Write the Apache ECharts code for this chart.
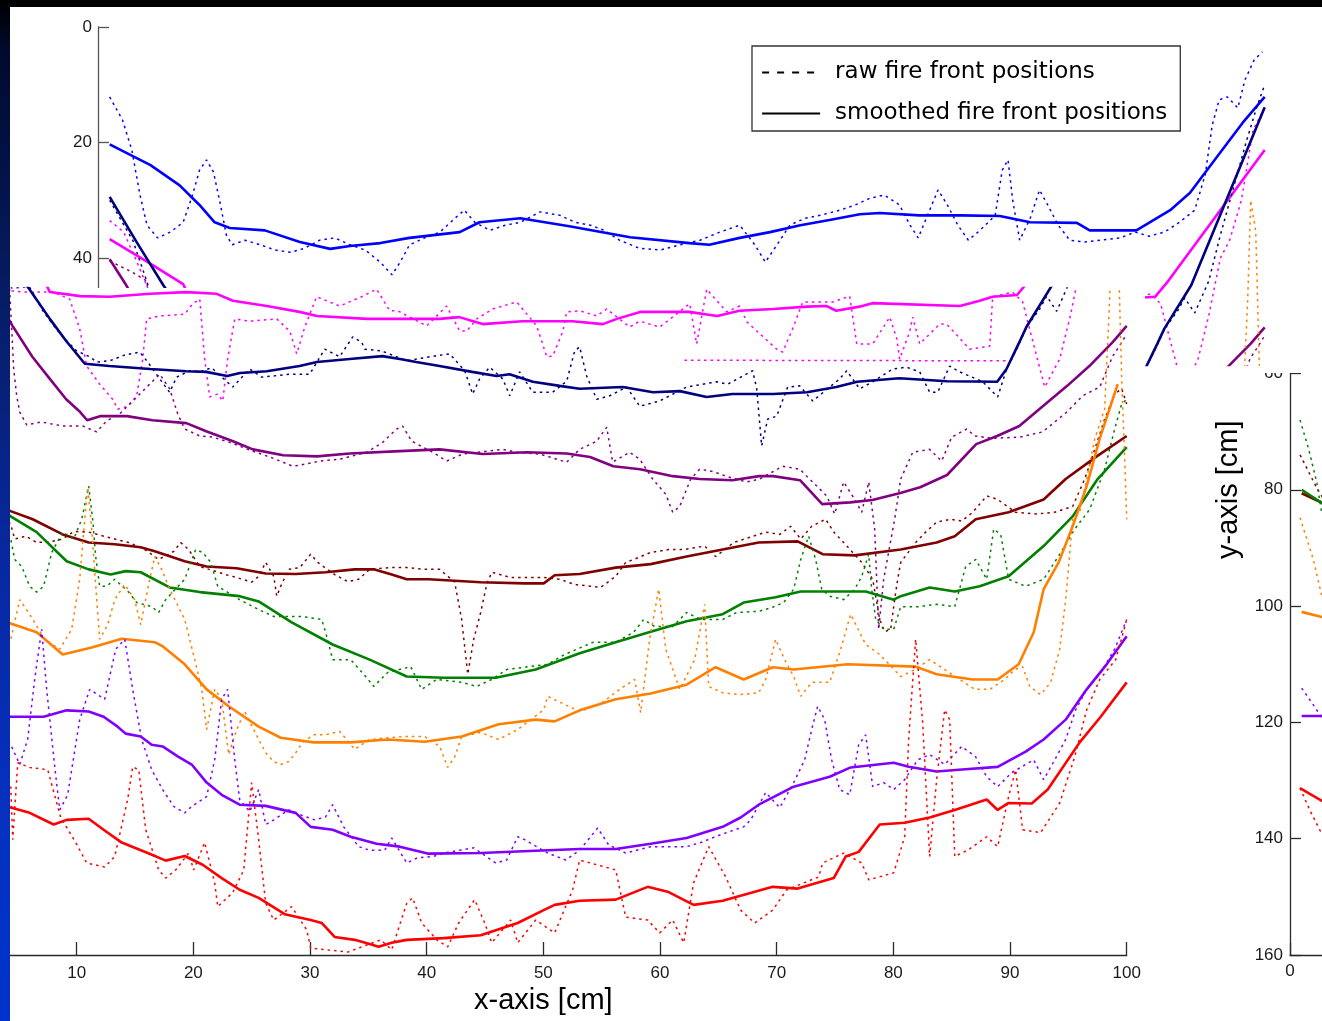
<!DOCTYPE html>
<html><head><meta charset="utf-8">
<script src="https://cdn.jsdelivr.net/npm/echarts@6/dist/echarts.min.js"></script>
<style>html,body{margin:0;padding:0;background:#fff}#c{width:1322px;height:1021px}</style>
</head><body><div id="c"></div>
<script>
// ---------- data (x in cm, y in cm) ----------
const legendNames = ['raw fire front positions', 'smoothed fire front positions'];
const xTicks = [0,10,20,30,40,50,60,70,80,90,100];

const blueSmooth = [[1.0,20.3],[4.5,23.9],[7.0,27.4],[8.7,30.8],[10.0,33.8],[11.3,34.8],[14.3,35.2],[17.3,37.2],[19.9,38.4],[21.6,37.9],[24.2,37.4],[26.7,36.5],[31.0,35.5],[32.7,33.8],[36.2,33.1],[40.4,34.5],[45.6,36.4],[50.7,37.4],[52.4,37.7],[55.0,36.5],[57.6,35.5],[60.2,34.3],[62.7,33.4],[65.3,32.4],[67.0,32.2],[70.4,32.6],[73.9,32.6],[77.3,32.7],[79.9,33.8],[83.9,33.9],[85.0,35.2],[89.0,35.2],[91.9,31.7],[93.6,28.7],[95.9,22.5],[98.1,16.6],[100,12.1]];
const blueRaw = [[1.0,12.1],[2.1,16.1],[2.9,21.3],[3.6,29.1],[4.2,34.3],[5.1,36.5],[6.2,35.5],[7.3,33.8],[8.1,29.1],[8.7,24.8],[9.3,23.0],[9.9,25.1],[10.5,30.8],[11.0,36.0],[11.5,37.7],[12.6,36.9],[13.9,37.7],[15.2,38.6],[16.5,39.0],[17.7,38.3],[19.0,36.9],[20.3,36.5],[21.6,37.7],[22.9,38.6],[24.2,40.7],[25.2,42.9],[25.9,40.7],[26.7,37.7],[28.0,36.5],[29.3,35.5],[30.6,33.1],[31.4,31.7],[32.3,33.8],[33.6,35.2],[34.9,34.3],[36.2,33.8],[37.9,32.0],[39.6,32.6],[40.9,33.8],[42.2,34.3],[43.4,35.2],[44.7,36.9],[46.4,38.3],[48.2,38.6],[49.9,37.7],[51.6,36.9],[53.3,35.5],[55.0,34.3],[56.3,37.7],[57.2,40.7],[58.0,38.3],[59.3,34.3],[60.6,33.1],[61.9,32.6],[63.6,31.7],[64.9,30.8],[66.2,29.6],[67.4,29.1],[68.7,30.8],[69.6,34.3],[70.3,36.5],[71.1,32.6],[72.0,28.2],[72.8,30.8],[73.7,34.3],[74.6,36.9],[75.6,35.2],[76.9,32.6],[77.5,24.8],[78.0,23.0],[78.4,30.0],[79.0,36.9],[79.9,33.1],[80.7,28.2],[81.4,30.8],[82.3,34.3],[83.3,36.9],[84.6,37.2],[85.9,36.9],[87.6,36.5],[88.9,35.5],[90.1,36.2],[91.4,35.5],[92.7,33.8],[94.0,31.7],[94.9,25.6],[95.5,17.0],[96.1,12.6],[96.8,12.1],[97.7,14.0],[98.3,9.2],[99.1,5.7],[99.8,4.3]];

const pinkSmooth = [[1.0,36.7],[4.2,40.6],[7.3,44.5],[7.7,46.2],[10.3,46.9],[12.8,47.0],[16.3,46.5],[19.4,46.2],[22.0,46.5],[23.4,47.7],[26.3,48.6],[29.1,49.6],[30.6,50.3],[34.9,50.8],[41.1,50.8],[42.8,50.5],[44.8,51.7],[48.2,51.2],[52.5,51.2],[55.1,51.7],[56.3,50.8],[58.3,49.6],[62.5,49.6],[64.9,50.3],[66.8,49.4],[69.7,49.1],[72.6,48.7],[74.3,48.6],[75.1,49.4],[77.1,48.7],[78.2,48.1],[85.7,48.6],[87.4,47.7],[88.5,47.0],[90.6,46.7],[91.6,44.3],[100,21.3]];
const pinkRaw = [[1.0,33.5],[2.2,35.5],[3.2,40.0],[4.43,46.0],[5.55,46.2],[6.83,46.2],[7.95,46.2],[9.40,47.4],[10.26,52.5],[10.86,58.9],[11.97,62.0],[13.09,64.6],[13.52,66.3],[14.37,65.8],[15.15,64.0],[15.66,57.7],[16.0,50.8],[17.12,50.3],[19.26,50.0],[19.95,48.2],[20.55,47.4],[20.97,57.7],[21.40,64.2],[22.09,63.7],[22.52,64.9],[22.94,57.7],[23.55,50.8],[24.83,51.2],[27.15,50.8],[28.26,52.9],[28.86,56.8],[29.55,52.2],[30.57,47.0],[32.54,48.6],[34.43,47.0],[35.71,45.7],[36.83,49.4],[37.51,49.4],[40.0,52.0],[41.72,48.6],[42.83,52.9],[43.43,52.9],[44.29,50.8],[45.66,49.1],[47.72,47.9],[49.43,52.0],[50.29,57.3],[50.80,57.2],[51.66,53.0],[52.0,49.6],[53.11,49.4],[54.57,50.3],[55.43,49.1],[57.40,52.2],[58.26,51.2],[59.97,52.2],[62.54,48.2],[63.14,55.1],[64.0,45.7],[65.71,49.6],[66.83,48.6],[67.43,51.3],[70.0,56.0],[70.51,56.5],[71.37,52.5],[72.23,47.9],[74.80,47.9],[76.26,46.9],[76.86,55.1],[77.71,55.1],[78.23,55.1],[79.69,50.5],[80.29,54.2],[80.54,57.7],[81.40,53.0],[81.66,50.5],[82.26,55.1],[83.97,51.7],[84.57,51.7],[86.54,56.0],[88.26,55.5],[88.51,47.0],[90.23,46.2],[91.08,47.9],[92.97,62.5],[94.26,57.7],[95.2,50.0],[96.2,40.0],[97.0,36.9],[98.0,30.0],[99.0,17.8],[100,14.0]];
const pinkRawFlat = [[62.1,57.9],[90.0,58.0]];

const navySmooth = [[1.0,29.4],[3.3,37.2],[5.6,44.7],[7.7,50.8],[9.1,54.6],[10.7,58.5],[12.8,58.9],[16.3,59.4],[19.4,59.8],[21.1,59.9],[22.9,60.6],[24.0,60.1],[26.3,59.8],[29.1,58.9],[30.6,58.2],[33.4,57.7],[36.2,57.2],[37.7,57.7],[39.1,58.2],[41.1,58.9],[43.9,59.9],[46.0,60.6],[47.1,60.3],[49.1,61.6],[51.4,62.3],[53.1,62.8],[56.8,62.5],[59.4,63.4],[61.7,63.2],[64.0,64.2],[66.2,63.7],[69.7,63.7],[72.6,63.4],[75.1,62.5],[76.9,61.6],[80.5,61.0],[84.6,61.5],[88.9,61.6],[89.7,59.4],[90.8,54.8],[91.4,52.2],[93.7,44.7],[100,13.9]];
const navyRaw = [[1.0,30.0],[3.0,37.0],[4.43,45.5],[5.97,45.3],[7.0,49.1],[8.12,52.2],[8.97,54.2],[10.0,56.3],[11.12,57.3],[11.72,58.2],[12.83,58.0],[14.12,57.0],[15.40,56.5],[16.09,58.2],[17.12,61.1],[17.97,63.4],[18.57,60.8],[19.69,59.7],[20.55,59.9],[21.57,59.2],[23.37,62.5],[24.83,59.4],[25.86,60.8],[28.26,60.3],[29.97,60.3],[31.26,56.0],[32.54,57.3],[33.66,53.9],[34.43,54.8],[34.69,56.0],[36.14,56.3],[38.29,58.0],[40.26,57.3],[41.97,56.8],[43.26,59.7],[43.94,63.7],[44.54,61.1],[45.40,59.1],[46.52,61.1],[47.12,64.0],[47.97,59.9],[49.09,63.4],[50.80,63.4],[52.0,61.5],[52.69,56.3],[53.11,55.6],[53.71,60.6],[54.57,64.6],[55.69,64.0],[57.14,62.5],[58.26,65.8],[59.97,64.9],[62.28,62.5],[64.86,61.6],[65.80,62.0],[67.94,59.7],[68.29,62.8],[68.71,72.6],[69.23,68.0],[70.0,67.5],[70.94,62.5],[71.97,62.3],[73.09,64.9],[75.40,61.1],[76.0,59.7],[77.11,62.8],[78.23,61.6],[79.94,59.4],[81.14,59.1],[82.26,59.9],[83.11,63.4],[83.80,63.4],[84.83,58.9],[85.69,59.9],[87.66,61.6],[88.94,64.2],[89.71,59.4],[90.57,56.0],[91.43,52.2],[92.54,49.1],[93.14,46.9],[94.0,49.5],[95.2,44.0],[96.2,36.0],[97.3,28.0],[98.4,20.0],[99.3,14.0],[100,10.0]];

const purpleSmooth = [[1.0,40.2],[2.3,44.3],[4.5,52.0],[6.2,57.3],[7.7,61.1],[9.1,64.6],[10.3,66.8],[10.9,68.2],[12.0,67.5],[14.3,67.5],[16.5,68.2],[19.4,68.7],[21.1,70.1],[23.4,71.8],[25.1,73.2],[27.7,74.2],[30.6,74.4],[33.4,73.9],[37.7,73.5],[41.1,73.2],[44.8,74.0],[48.6,73.7],[52.0,73.9],[54.0,74.5],[56.0,76.1],[58.3,76.6],[61.1,77.8],[63.4,78.3],[66.2,78.5],[68.5,77.8],[69.7,77.8],[72.0,78.5],[73.9,82.6],[76.3,82.3],[78.2,81.9],[80.6,80.7],[82.3,79.7],[84.6,77.6],[87.1,72.3],[88.9,70.9],[90.8,69.2],[92.5,66.3],[94.9,62.3],[96.8,58.9],[98.8,54.8],[100,52.0]];
const purpleRaw = [[1.0,40.5],[3.0,42.5],[4.2,44.0],[4.43,52.5],[4.60,59.4],[4.86,64.0],[5.12,66.8],[5.72,69.0],[7.0,68.5],[8.80,69.2],[10.52,69.2],[11.72,70.2],[12.57,68.3],[13.69,67.1],[14.97,64.6],[16.26,62.0],[17.12,60.3],[17.97,62.8],[18.66,67.1],[19.26,69.7],[20.55,70.9],[21.66,71.1],[23.12,72.0],[25.09,73.5],[26.80,74.7],[28.52,76.1],[29.72,75.7],[30.83,75.2],[32.54,74.9],[34.86,73.7],[36.23,72.0],[37.43,69.7],[37.94,69.2],[38.72,71.8],[40.52,73.7],[41.72,75.2],[43.09,74.0],[46.52,73.2],[47.72,73.7],[49.69,74.0],[52.0,75.4],[53.11,73.2],[54.57,71.8],[55.43,69.4],[55.94,75.4],[57.40,73.7],[58.26,74.9],[59.37,78.3],[60.49,80.9],[61.09,84.0],[61.69,83.0],[62.63,78.3],[63.40,76.6],[64.51,77.0],[65.97,78.0],[67.43,78.8],[68.54,78.3],[70.51,76.1],[71.97,76.6],[73.43,79.5],[74.29,81.2],[74.97,84.3],[75.74,78.8],[76.69,81.8],[77.29,84.0],[77.89,78.8],[78.40,86.9],[78.74,104.1],[79.17,95.5],[80.11,85.2],[80.63,78.3],[81.66,73.7],[83.11,73.2],[84.14,75.2],[85.0,71.1],[86.29,69.7],[86.97,70.9],[88.51,71.3],[90.83,71.1],[92.80,70.2],[94.86,66.8],[96.23,64.0],[97.69,62.5],[98.80,57.2],[99.40,55.4],[100,53.4]];

const maroonSmooth = [[1.0,80.6],[2.7,82.2],[4.34,83.8],[6.23,85.2],[8.80,87.8],[11.03,89.2],[13.26,89.5],[15.49,90.0],[16.69,90.7],[19.26,92.4],[21.14,93.3],[23.71,93.6],[26.20,94.5],[28.77,94.6],[31.34,94.3],[33.83,93.8],[35.46,93.8],[37.0,94.7],[38.29,95.5],[40.17,95.5],[44.63,96.0],[48.40,96.2],[50.03,96.2],[50.97,94.8],[53.11,94.6],[56.20,93.5],[59.20,92.9],[62.28,91.6],[65.37,90.4],[68.46,89.2],[71.80,89.0],[73.94,91.2],[76.68,91.4],[80.63,90.4],[83.71,89.2],[85.26,88.1],[87.06,85.2],[89.88,84.0],[92.88,81.8],[94.77,78.3],[97.43,74.4],[100,70.9]];
const maroonRaw = [[0.86,74.0],[2.3,79.7],[3.3,83.0],[4.35,86.1],[4.69,88.6],[5.63,88.1],[6.57,89.2],[7.86,89.0],[8.80,88.6],[9.75,87.3],[11.03,87.4],[12.32,88.1],[14.46,89.2],[15.83,90.4],[17.03,92.1],[18.32,90.7],[18.92,89.2],[19.60,90.4],[20.55,93.3],[22.77,94.7],[23.72,95.2],[25.0,96.0],[25.60,95.0],[26.20,92.6],[26.89,95.0],[27.15,98.4],[27.49,96.7],[28.17,93.8],[29.12,93.5],[30.06,91.2],[30.66,92.6],[32.12,94.7],[33.23,95.9],[34.17,95.5],[35.11,93.8],[36.83,93.5],[38.29,93.5],[39.83,93.8],[41.12,93.8],[42.40,96.0],[43.0,102.4],[43.52,111.8],[44.03,105.8],[44.63,101.2],[45.14,96.4],[45.57,94.3],[47.20,95.2],[49.09,95.2],[50.03,95.2],[51.40,95.5],[52.69,96.4],[54.06,96.7],[54.91,96.9],[56.20,95.0],[57.06,92.6],[57.74,92.1],[59.20,90.9],[60.74,90.4],[62.03,90.4],[63.83,89.8],[64.77,91.6],[66.31,89.2],[67.69,88.3],[69.06,87.4],[70.26,87.8],[71.20,86.4],[72.06,88.6],[73.0,86.4],[74.20,85.2],[74.89,87.4],[75.74,89.2],[77.29,92.6],[78.23,95.5],[78.83,102.4],[79.26,104.5],[79.77,104.1],[80.11,99.0],[80.37,95.5],[80.63,92.6],[81.91,89.2],[82.77,87.4],[83.71,85.7],[84.91,85.2],[85.86,85.5],[86.80,84.0],[88.0,81.2],[88.94,81.8],[90.48,84.0],[92.28,84.3],[93.83,84.0],[95.37,83.0],[96.40,78.3],[97.26,73.2],[98.11,68.0],[98.97,63.7],[99.57,62.8],[100,65.4]];

const greenSmooth = [[1.0,80.0],[2.74,82.3],[4.34,84.7],[6.57,87.4],[9.14,92.4],[11.03,93.8],[12.91,94.7],[14.20,94.1],[15.49,94.3],[17.97,96.9],[20.54,97.7],[23.97,98.4],[25.60,99.3],[28.43,102.9],[31.94,106.7],[35.11,109.3],[38.29,112.2],[41.46,112.4],[45.91,112.4],[49.34,111.0],[53.11,108.2],[56.20,106.3],[59.20,104.5],[62.28,102.7],[65.37,101.5],[67.17,99.5],[69.91,98.6],[72.06,97.6],[77.63,97.6],[80.03,99.0],[80.63,98.4],[83.11,96.9],[85.26,97.6],[87.40,96.7],[89.88,95.0],[92.88,89.8],[95.37,84.7],[97.51,78.3],[100,72.8]];
const greenRaw = [[0.86,68.0],[1.6,73.0],[2.3,78.8],[2.74,84.2],[3.5,86.0],[4.35,88.6],[4.69,92.1],[5.29,93.3],[5.97,96.7],[6.57,97.7],[7.17,96.7],[7.86,90.9],[8.80,87.4],[9.75,88.6],[10.43,85.2],[11.03,79.5],[11.37,85.2],[11.63,91.6],[11.97,96.7],[12.57,96.7],[13.26,95.5],[14.46,97.7],[15.15,99.5],[16.43,100.2],[17.03,101.2],[17.63,99.0],[19.26,95.5],[20.20,90.4],[20.80,90.9],[21.49,92.6],[22.09,96.7],[23.97,99.0],[25.60,100.7],[26.89,101.9],[28.43,101.9],[29.37,101.9],[31.0,102.4],[31.34,104.6],[31.94,109.3],[33.49,109.3],[34.77,112.2],[35.46,113.9],[36.66,111.5],[38.63,110.5],[39.57,114.4],[40.86,112.7],[43.0,113.2],[44.29,113.9],[45.57,112.7],[46.86,111.0],[48.40,110.6],[50.37,110.1],[51.83,108.4],[53.46,107.0],[54.31,106.3],[56.20,106.3],[57.74,104.6],[58.60,102.4],[59.54,103.6],[61.09,103.6],[62.28,101.2],[63.49,102.4],[65.37,102.4],[66.57,101.2],[68.46,101.0],[69.66,100.3],[70.60,99.5],[71.46,97.2],[72.06,92.1],[72.74,88.1],[73.34,92.1],[73.86,97.2],[74.54,98.4],[75.74,99.0],[76.69,97.2],[77.29,95.0],[77.89,91.2],[78.14,97.2],[78.49,102.4],[79.17,104.1],[80.03,104.1],[80.63,100.2],[82.17,100.2],[83.71,99.8],[85.26,100.2],[86.20,93.3],[87.06,92.1],[88.0,95.5],[88.60,86.9],[89.20,87.8],[89.88,95.5],[91.34,96.7],[92.88,95.5],[94.26,91.2],[95.54,86.9],[96.83,83.5],[98.11,76.6],[98.97,69.7],[99.57,65.4],[100,64.6]];

const orangeSmooth = [[1.0,101.0],[2.74,101.9],[4.34,103.1],[6.57,104.6],[8.80,108.4],[11.29,107.2],[13.86,105.7],[16.69,106.3],[17.37,107.0],[19.26,110.1],[21.14,114.4],[23.03,117.3],[25.60,120.8],[27.49,122.7],[30.31,123.5],[33.49,123.5],[36.66,123.0],[39.83,123.4],[43.0,122.5],[46.17,120.4],[49.34,119.6],[50.97,119.9],[53.11,118.0],[56.20,116.1],[59.20,115.1],[62.28,113.6],[64.77,110.6],[67.17,112.7],[69.66,110.6],[71.46,111.0],[76.09,110.1],[81.91,110.5],[83.71,111.8],[86.80,112.7],[88.94,112.7],[90.74,110.1],[92.03,104.6],[92.88,97.2],[94.17,92.6],[95.37,86.4],[96.57,79.5],[97.68,71.4],[99.23,62.0]];
const orangeRaw = [[0.86,84.8],[2.0,92.0],[2.74,98.4],[3.5,103.0],[4.35,105.8],[5.12,99.0],[5.97,101.5],[7.26,105.8],[8.55,107.5],[9.57,104.1],[10.26,95.5],[10.69,85.2],[10.95,79.7],[11.29,86.9],[11.72,99.0],[11.97,105.8],[12.66,103.3],[13.26,99.0],[14.12,96.4],[14.97,99.0],[15.49,103.3],[16.09,97.2],[16.69,91.6],[17.29,93.8],[17.97,97.2],[19.26,102.4],[20.12,109.3],[20.72,114.4],[21.14,121.3],[21.83,114.4],[22.43,116.1],[23.03,125.6],[23.72,121.3],[24.40,118.2],[25.60,123.0],[26.20,125.3],[26.89,126.8],[27.49,127.3],[28.17,126.8],[28.77,125.3],[29.37,123.5],[30.32,122.2],[31.34,122.2],[32.54,121.6],[33.83,124.7],[35.11,123.0],[37.94,122.5],[39.83,122.5],[41.12,124.2],[41.80,127.8],[42.40,126.0],[43.0,122.5],[44.63,121.8],[46.17,123.0],[47.80,121.3],[50.03,117.9],[50.37,115.6],[51.83,117.0],[53.11,118.2],[54.83,117.0],[56.54,114.4],[57.83,112.7],[58.34,118.4],[59.11,105.8],[59.89,97.2],[60.49,107.5],[61.69,114.4],[62.97,109.3],[63.83,99.8],[64.17,113.9],[65.37,115.0],[66.83,115.3],[68.46,115.0],[69.06,112.7],[69.91,105.8],[70.68,109.3],[71.46,112.2],[72.06,115.6],[73.0,113.2],[74.54,113.2],[75.49,107.5],[76.34,101.5],[77.63,106.7],[78.83,108.4],[80.63,112.2],[81.83,111.0],[83.11,109.3],[84.40,111.0],[85.69,112.7],[86.97,114.4],[88.26,114.4],[89.54,112.7],[90.40,111.0],[91.08,110.5],[91.69,113.9],[92.62,115.3],[93.48,113.2],[94.26,107.5],[94.77,99.0],[95.37,85.2],[95.97,84.0],[96.57,78.3],[97.26,71.4],[98.11,66.3],[98.54,47.4],[98.80,30.0],[99.23,35.3],[99.57,61.1],[99.83,74.9],[100,85.2]];

const violetSmooth = [[1.0,118.9],[2.74,118.9],[4.34,119.1],[7.17,119.1],[9.14,118.0],[11.03,118.2],[12.31,119.1],[13.51,120.8],[14.20,122.0],[15.49,122.5],[16.43,123.9],[17.37,124.2],[18.66,125.9],[19.86,127.3],[21.14,130.4],[22.43,132.5],[23.97,134.2],[26.20,134.4],[28.77,135.6],[30.06,138.0],[31.94,138.5],[33.49,139.7],[35.71,140.9],[37.69,141.4],[40.17,142.6],[44.63,142.5],[49.34,142.1],[53.11,141.8],[56.20,141.8],[59.20,140.9],[62.28,139.9],[65.37,138.0],[66.91,136.4],[68.46,134.2],[71.46,131.1],[74.54,129.4],[76.34,127.8],[80.03,127.0],[81.31,127.7],[83.71,128.5],[85.60,128.2],[88.94,127.7],[91.34,125.1],[92.88,123.0],[94.77,119.6],[96.57,114.4],[98.28,110.1],[100,105.3]];
const violetRaw = [[1.0,114.1],[1.9,116.7],[3.0,120.0],[4.35,123.9],[5.12,127.3],[5.80,123.0],[6.40,112.7],[7.0,104.1],[7.43,114.4],[8.12,127.7],[8.55,135.1],[9.23,132.5],[10.26,119.6],[11.12,114.4],[12.40,116.1],[13.35,107.5],[14.12,105.8],[14.80,114.4],[15.57,123.0],[16.43,128.2],[17.37,131.6],[18.32,134.5],[19.26,135.6],[19.86,134.5],[21.14,132.8],[21.83,126.5],[22.43,116.1],[22.94,114.4],[23.55,126.5],[23.97,133.3],[24.83,135.4],[25.60,131.6],[26.20,137.6],[26.89,136.8],[28.17,135.1],[29.12,135.9],[30.40,136.8],[31.34,136.3],[31.94,134.2],[32.46,136.3],[32.89,138.0],[34.17,141.4],[35.11,142.0],[36.40,142.0],[37.0,139.9],[38.29,144.2],[39.23,143.3],[40.52,143.1],[41.46,142.5],[44.03,141.6],[45.91,144.2],[46.86,143.7],[47.80,139.7],[48.40,140.2],[50.37,142.5],[51.92,143.7],[53.11,142.0],[54.66,138.2],[55.60,141.1],[57.06,142.5],[59.20,141.4],[62.28,141.4],[63.49,140.7],[65.12,139.4],[67.17,138.0],[67.77,136.8],[69.06,132.1],[70.26,134.7],[71.46,130.4],[72.40,126.5],[73.0,121.3],[73.51,117.3],[74.11,119.6],[74.71,126.5],[75.40,131.6],[76.26,132.5],[77.03,123.9],[77.63,122.2],[78.23,131.1],[79.17,130.4],[80.03,131.6],[80.97,129.9],[82.09,126.5],[83.11,125.6],[84.40,127.3],[85.86,124.2],[87.06,126.0],[88.0,129.4],[88.94,131.1],[90.14,128.7],[92.03,126.5],[92.88,129.9],[93.83,126.5],[94.77,123.0],[95.63,117.9],[96.57,114.4],[97.69,111.8],[98.97,107.5],[100,102.4]];

const redSmooth = [[0.86,131.3],[2.74,133.5],[4.34,134.7],[5.97,135.6],[8.03,137.6],[9.14,136.8],[11.03,136.6],[12.31,138.5],[13.86,140.7],[16.09,142.5],[17.63,143.8],[19.26,143.0],[20.80,144.5],[22.43,146.8],[23.97,148.8],[25.60,150.2],[27.83,153.0],[30.06,154.0],[31.0,154.5],[32.11,156.9],[33.83,157.4],[35.11,158.1],[35.88,158.6],[37.0,157.9],[38.29,157.4],[41.46,157.1],[44.63,156.6],[47.80,154.5],[50.03,152.3],[50.97,151.4],[53.11,150.7],[56.20,150.5],[58.94,148.3],[60.74,149.2],[62.88,151.4],[65.37,150.7],[69.66,148.3],[71.80,148.6],[74.89,146.8],[75.91,143.1],[77.03,142.3],[78.83,137.6],[80.97,137.3],[83.11,136.4],[85.26,135.1],[88.0,133.3],[88.94,135.1],[89.88,133.9],[91.86,134.0],[93.23,131.6],[95.97,123.5],[97.77,119.1],[100,113.2]];
const redRaw = [[0.86,131.3],[1.7,135.1],[2.6,138.7],[3.5,137.0],[4.35,131.1],[4.52,140.2],[4.95,127.0],[5.97,127.8],[7.52,128.2],[8.63,136.4],[9.92,140.7],[10.86,144.2],[12.40,144.9],[13.26,143.1],[14.37,133.3],[14.80,127.7],[15.32,128.2],[15.92,138.5],[17.03,145.4],[17.63,146.8],[18.49,145.4],[19.60,142.5],[20.03,145.4],[20.97,140.7],[21.83,147.6],[22.09,151.7],[23.37,149.3],[24.32,145.4],[25.0,130.4],[25.60,140.2],[26.20,151.1],[26.89,154.0],[28.43,151.7],[29.72,155.7],[30.06,158.8],[33.23,159.5],[36.06,157.4],[37.0,159.1],[38.29,151.1],[38.80,150.2],[39.57,154.5],[40.86,157.4],[41.80,158.6],[42.74,154.5],[44.11,150.5],[44.97,154.5],[45.57,157.9],[47.20,154.0],[47.80,157.9],[49.34,154.0],[50.97,156.2],[52.51,148.8],[53.11,143.7],[56.20,145.4],[57.06,153.5],[58.94,154.0],[59.97,156.2],[61.09,154.0],[62.03,157.9],[62.88,147.6],[64.17,141.4],[65.63,146.6],[66.91,152.3],[68.11,154.5],[69.66,152.3],[70.86,148.8],[73.60,146.6],[73.94,144.2],[75.74,142.5],[77.29,144.2],[77.89,147.1],[80.03,145.9],[80.97,139.7],[81.31,123.0],[81.91,105.8],[82.51,120.1],[83.11,143.1],[83.71,129.9],[84.40,117.9],[84.83,119.6],[85.26,143.1],[86.46,141.9],[88.0,139.7],[88.94,141.4],[89.88,132.8],[90.48,128.2],[91.08,138.5],[92.62,139.0],[94.26,133.9],[95.54,126.0],[96.57,117.9],[97.69,112.7],[99.06,109.3],[100,102.4]];

const families = [
  {raw: blueRaw,   smooth: blueSmooth,   color: '#0000ff'},
  {raw: pinkRaw,   smooth: pinkSmooth,   color: '#ff00ff', extra: pinkRawFlat},
  {raw: navyRaw,   smooth: navySmooth,   color: '#000080'},
  {raw: purpleRaw, smooth: purpleSmooth, color: '#800080'},
  {raw: maroonRaw, smooth: maroonSmooth, color: '#800000'},
  {raw: greenRaw,  smooth: greenSmooth,  color: '#008000'},
  {raw: orangeRaw, smooth: orangeSmooth, color: '#ff8000'},
  {raw: violetRaw, smooth: violetSmooth, color: '#8000ff'},
  {raw: redRaw,    smooth: redSmooth,    color: '#ff0000'}
];

// ---------- layout ----------
const W = 1322, H = 1021;
const PXCM = 11.667;
const gridZ = [3, 5, 1];   // top copy, main copy, right copy
const grids = [
  {left: 98,   top: 27,   width: 100*PXCM, height: 338},
  {left: -40,  top: 288,  width: 100*PXCM, height: 667},
  {left: 1290, top: 24.5, width: 100*PXCM, height: 930.5}
];
const tickFont = {fontFamily: 'Liberation Sans, Arial, sans-serif', fontSize: 17, color: '#1a1a1a'};
const axisColor = '#2a2a2a';

function lineSeries(data, color, raw, g) {
  return {
    type: 'line', data: data, xAxisIndex: g, yAxisIndex: g, z: gridZ[g],
    symbol: 'none', showSymbol: false, clip: true, silent: true, smooth: false,
    animation: false, emphasis: {disabled: true},
    lineStyle: raw ? {color: color, width: 1.5, type: [2.5, 4]} : {color: color, width: 2.6},
    itemStyle: {color: color}
  };
}

const series = [];
for (let g = 0; g < 3; g++) {
  families.forEach(f => {
    series.push(lineSeries(f.raw, f.color, true, g));
    if (f.extra) series.push(lineSeries(f.extra, f.color, true, g));
    series.push(lineSeries(f.smooth, f.color, false, g));
  });
}
// legend entries (black samples)
series.push({type: 'line', name: legendNames[0], data: [], xAxisIndex: 0, yAxisIndex: 0, symbol: 'none', showSymbol: false,
  lineStyle: {color: '#000', width: 2, type: [7, 8]}, itemStyle: {color: '#000'}});
series.push({type: 'line', name: legendNames[1], data: [], xAxisIndex: 0, yAxisIndex: 0, symbol: 'none', showSymbol: false,
  lineStyle: {color: '#000', width: 2.2}, itemStyle: {color: '#000'}});

const option = {
  animation: false,
  backgroundColor: '#ffffff',
  grid: grids.map((r, i) => Object.assign({show: false, containLabel: false, outerBoundsMode: 'none', z: gridZ[i]}, r)),
  xAxis: [
    {gridIndex: 0, type: 'value', min: 0, max: 100, show: false},
    {gridIndex: 1, type: 'value', min: 0, max: 100, interval: 10, z: 5,
      axisLine: {show: true, onZero: false, lineStyle: {color: axisColor, width: 1.3}},
      axisTick: {show: true, inside: true, length: 13, lineStyle: {color: axisColor, width: 1.3}},
      axisLabel: Object.assign({margin: 10}, tickFont),
      splitLine: {show: false},
      name: 'x-axis [cm]', nameLocation: 'middle', nameGap: 31,
      nameTextStyle: {fontFamily: 'Liberation Sans, Arial, sans-serif', fontSize: 29, color: '#000'}},
    {gridIndex: 2, type: 'value', min: 0, max: 100, interval: 10, z: 1,
      axisLine: {show: true, onZero: false, lineStyle: {color: axisColor, width: 1.3}},
      axisTick: {show: true, inside: true, length: 12, lineStyle: {color: axisColor, width: 1.3}},
      axisLabel: Object.assign({margin: 8}, tickFont),
      splitLine: {show: false}}
  ],
  yAxis: [
    {gridIndex: 0, type: 'value', inverse: true, min: 0, max: 58.5, interval: 20, z: 3,
      axisLine: {show: true, onZero: false, lineStyle: {color: '#555', width: 1.3}},
      axisTick: {show: true, inside: true, length: 11, customValues: [0, 20, 40], lineStyle: {color: '#555', width: 1.3}},
      axisLabel: Object.assign({margin: 6, customValues: [0, 20, 40]}, tickFont),
      splitLine: {show: false}},
    {gridIndex: 1, type: 'value', inverse: true, min: 45.5, max: 160, show: false},
    {gridIndex: 2, type: 'value', inverse: true, min: 0, max: 160, interval: 20, z: 1,
      axisLine: {show: true, onZero: false, lineStyle: {color: axisColor, width: 1.3}},
      axisTick: {show: true, inside: true, length: 11, lineStyle: {color: axisColor, width: 1.3}},
      axisLabel: Object.assign({margin: 7}, tickFont),
      splitLine: {show: false},
      name: 'y-axis [cm]', nameLocation: 'middle', nameGap: 43,
      nameTextStyle: {fontFamily: 'Liberation Sans, Arial, sans-serif', fontSize: 29, color: '#000'}}
  ],
  legend: {
    z: 3, left: 752, top: 46, orient: 'vertical', selectedMode: false,
    backgroundColor: '#fff', borderColor: '#333', borderWidth: 1.3, borderRadius: 0,
    padding: [15, 13, 6, 9], itemGap: 18, itemWidth: 58, itemHeight: 14,
    textStyle: {fontFamily: 'DejaVu Sans, sans-serif', fontSize: 23, color: '#000', padding: [0, 0, 0, 10]},
    data: [
      {name: legendNames[0], itemStyle: {opacity: 0}, lineStyle: {color: '#000', width: 2, type: [7, 8]}},
      {name: legendNames[1], itemStyle: {opacity: 0}, lineStyle: {color: '#000', width: 2.2}}
    ]
  },
  graphic: {elements: [
    // white page of the right copy that hides its upper part
    {type: 'rect', z: 2, silent: true, shape: {x: 1250, y: 7, width: 72, height: 366}, style: {fill: '#fff'}},
    // white page of the main copy, laid over the top copy
    {type: 'rect', z: 4, silent: true, shape: {x: 10, y: 288, width: 1135, height: 733}, style: {fill: '#fff'}},
    // slide frame
    {type: 'rect', z: 20, silent: true, shape: {x: 0, y: 0, width: W, height: 7}, style: {fill: '#000'}},
    {type: 'rect', z: 20, silent: true, shape: {x: 0, y: 0, width: 10, height: H},
      style: {fill: {type: 'linear', x: 0, y: 0, x2: 0, y2: 1, colorStops: [
        {offset: 0, color: '#000000'}, {offset: 0.05, color: '#000a2e'}, {offset: 0.3, color: '#061d66'},
        {offset: 0.55, color: '#0828a0'}, {offset: 0.8, color: '#0431c0'}, {offset: 1, color: '#0033cc'}]}}}
  ]},
  series: series
};

const chart = echarts.init(document.getElementById('c'), null, {renderer: 'canvas'});
chart.setOption(option);
</script>
</body></html>
